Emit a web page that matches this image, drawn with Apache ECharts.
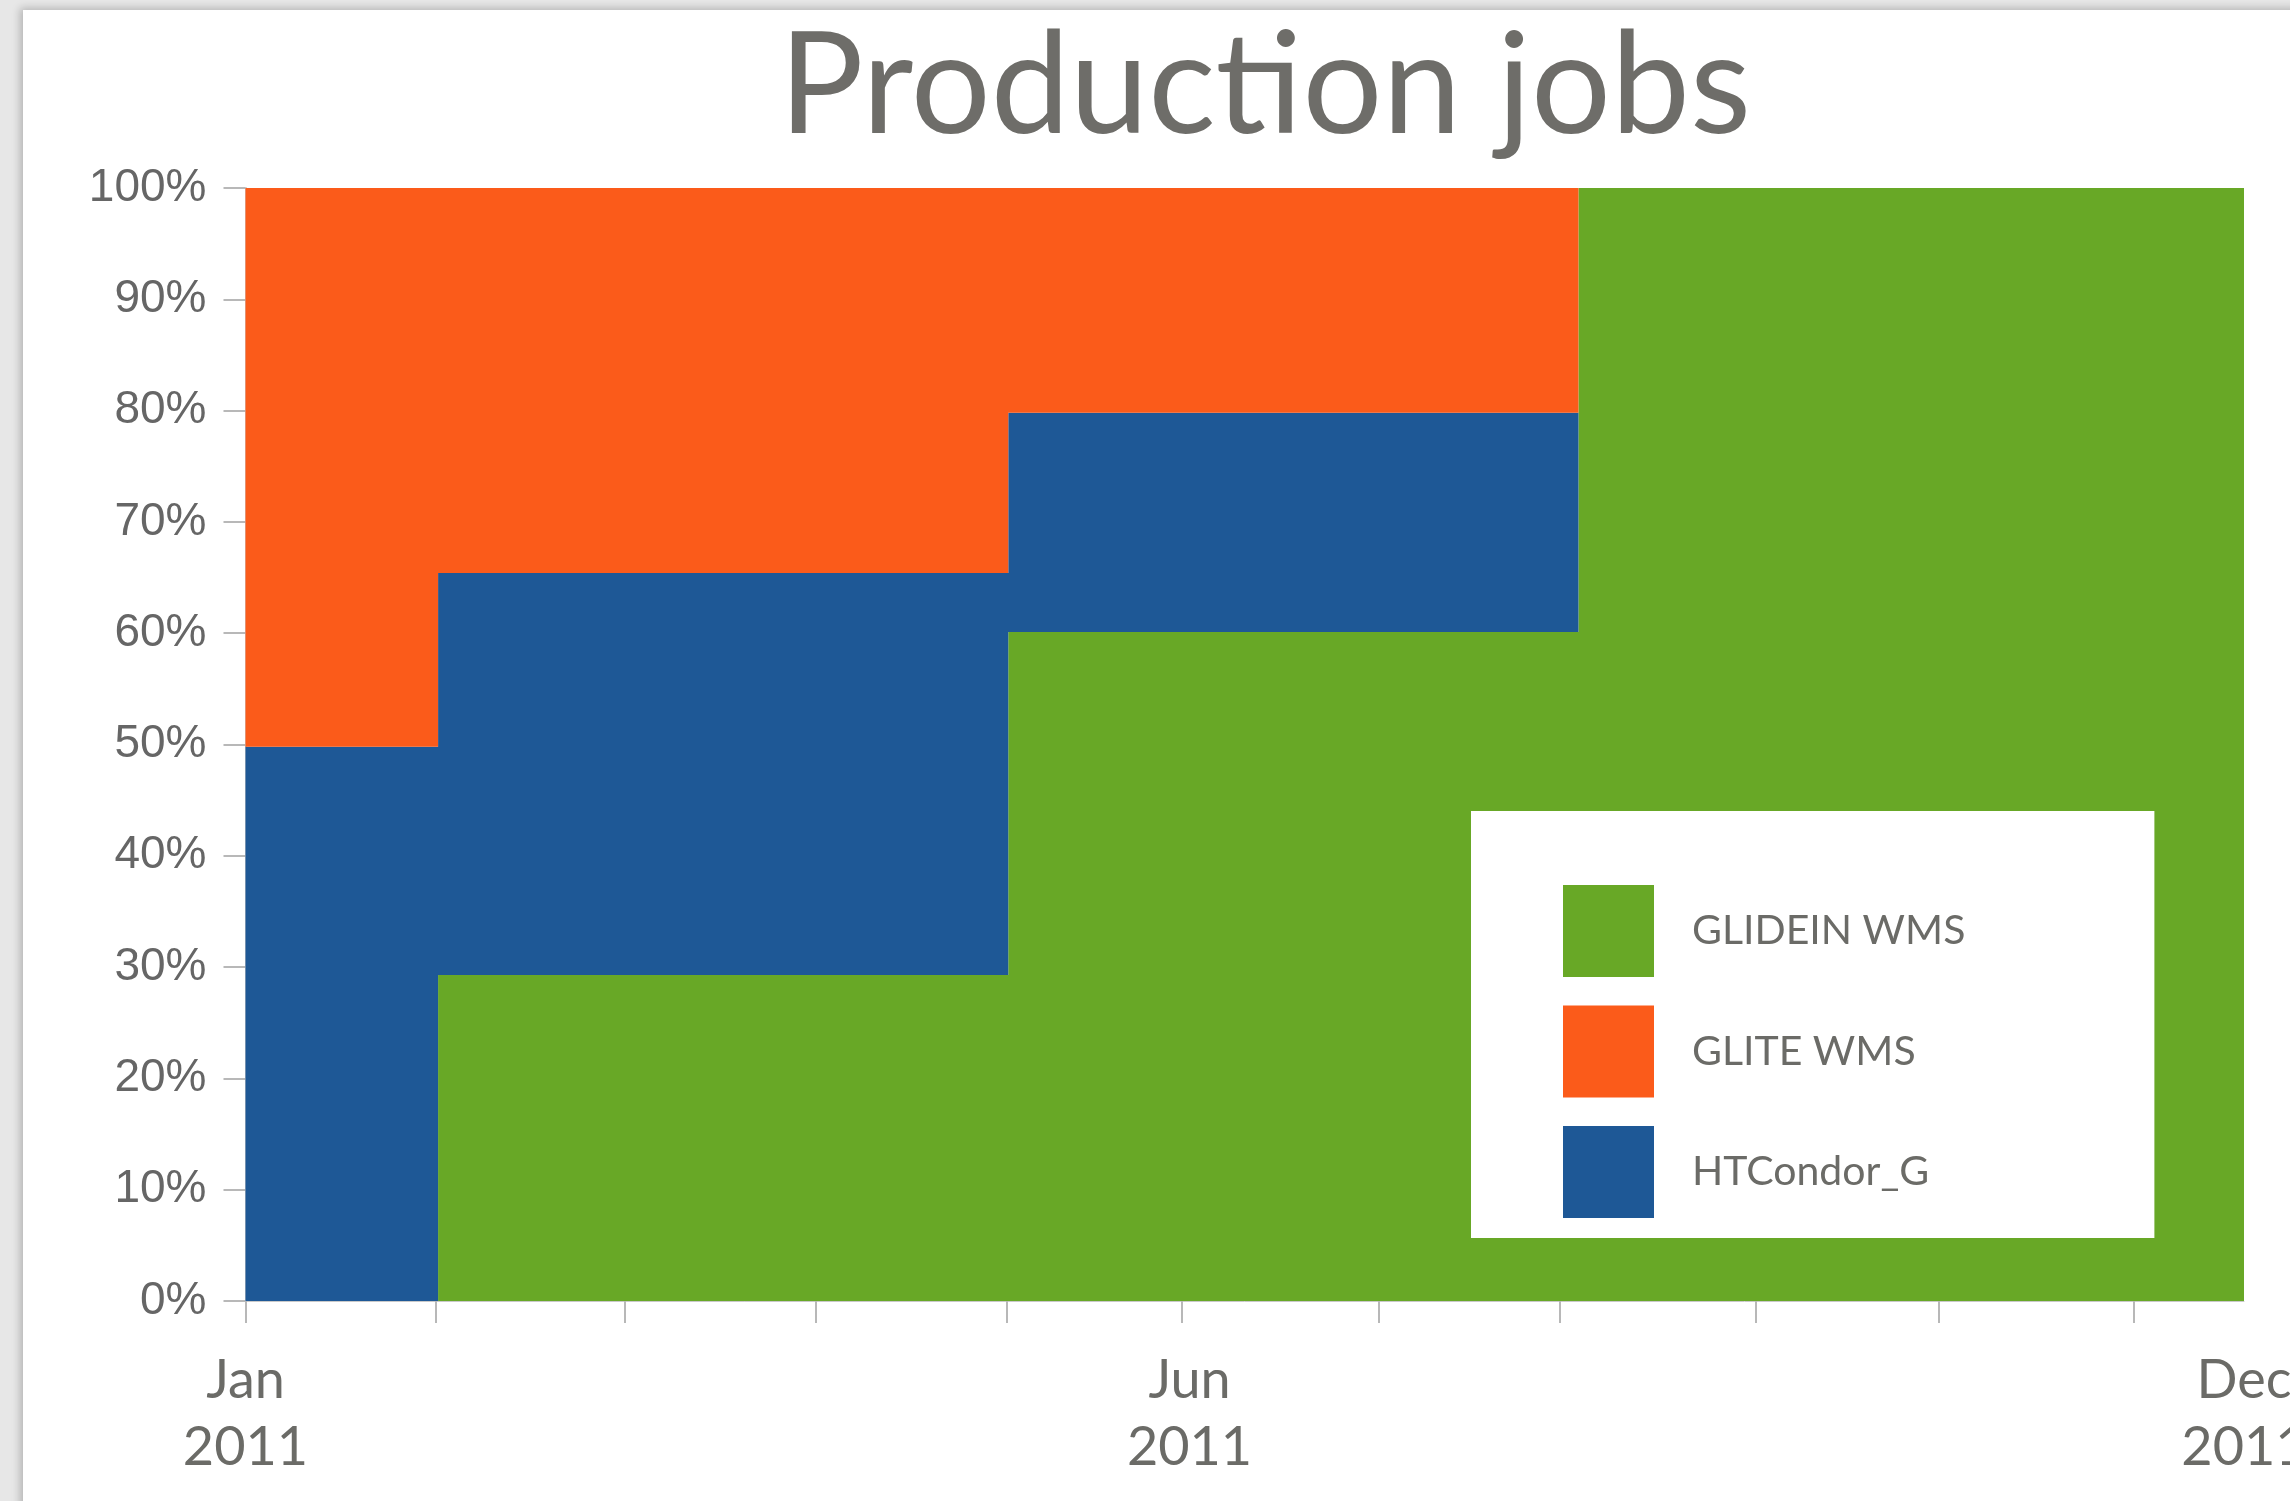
<!DOCTYPE html>
<html>
<head>
<meta charset="utf-8">
<script src="https://cdn.jsdelivr.net/npm/echarts@6/dist/echarts.min.js"></script>
<style>
  html, body { margin: 0; padding: 0; background: #e7e7e7; overflow: hidden; }
  #card { position: absolute; left: 23px; top: 10px; width: 2300px; height: 1520px; background: #fff; box-shadow: -3px -2px 8px rgba(0,0,0,0.22); }
  #chart { position: absolute; left: 0; top: 0; width: 2290px; height: 1501px; }
</style>
</head>
<body>
<div id="card"></div>
<div id="chart"></div>
<script>
// ---- data ----
const titleText = 'Production jobs';
const seriesNames = ['GLIDEIN WMS', 'HTCondor_G', 'GLITE WMS'];   // stacking order, bottom to top
const legendOrder = ['GLIDEIN WMS', 'GLITE WMS', 'HTCondor_G'];
const seriesColors = ['#68a826', '#1e5896', '#fb5b1a'];
// x = months since 1 Jan 2011 (start of each period; last entry is the end of the axis)
const periodStart = [0, 1.02, 4.04, 7.06, 10.585];
const glidein  = [0,    29.3, 60.1, 100, 100];
const htcondor = [49.8, 36.1, 19.7, 0,   0];
const glite    = [50.2, 34.6, 20.2, 0,   0];
const xTickPos = [0, 1.01, 2.01, 3.02, 4.03, 4.96, 6.0, 6.96, 8.0, 8.97, 10];
const xLabelPos = [0, 5, 10.585];
const xLabels = ['Jan\n2011', 'Jun\n2011', 'Dec\n2011'];
const yTickLabels = ['0%', '10%', '20%', '30%', '40%', '50%', '60%', '70%', '80%', '90%', '100%'];

const valuesBySeries = [glidein, htcondor, glite];

const chart = echarts.init(document.getElementById('chart'), null, { renderer: 'canvas' });

// data rows are [share, month]; encode maps month -> x, share -> y so the stack is applied to y
const series = seriesNames.map((name, i) => ({
  name: name,
  type: 'line',
  stack: 'total',
  step: 'end',
  symbol: 'none',
  silent: true,
  encode: { x: 1, y: 0 },
  lineStyle: { width: 0, color: seriesColors[i] },
  itemStyle: { color: seriesColors[i] },
  areaStyle: { color: seriesColors[i], opacity: 1 },
  data: periodStart.map((x, k) => [valuesBySeries[i][k], x])
}));

const option = {
  animation: false,
  backgroundColor: 'transparent',
  grid: { left: 245.5, right: 46, top: 188, bottom: 200, containLabel: false, outerBoundsMode: 'none' },
  graphic: [
    {
      type: 'text', x: 1265, y: 88, z: 10,
      style: {
        text: titleText, fill: '#6e6d69', font: '141px Lato',
        align: 'center', verticalAlign: 'middle'
      }
    }
  ],
  legend: {
    orient: 'vertical',
    left: 1471, top: 811,
    padding: [74, 189, 20, 92],
    backgroundColor: '#ffffff',
    z: 20,
    itemWidth: 91, itemHeight: 92, itemGap: 28.5,
    icon: 'rect',
    selectedMode: false,
    data: legendOrder.map(n => ({
      name: n,
      itemStyle: { color: seriesColors[seriesNames.indexOf(n)], borderWidth: 0 }
    })),
    textStyle: { fontFamily: 'Lato', fontSize: 41, color: '#6b6b67', padding: [0, 0, 6, 33] }
  },
  xAxis: {
    type: 'value',
    min: 0, max: periodStart[periodStart.length - 1],
    splitLine: { show: false },
    axisLine: { show: true, lineStyle: { color: '#c9c9c9', width: 1 } },
    axisTick: { show: true, length: 22, customValues: xTickPos, lineStyle: { color: '#b8b8b8', width: 2 } },
    axisLabel: {
      show: true, customValues: xLabelPos, margin: 46, hideOverlap: false,
      fontFamily: 'Lato', fontSize: 54, lineHeight: 67, color: '#6b6b67',
      formatter: function (v) {
        const idx = xLabelPos.findIndex(p => Math.abs(p - v) < 1e-6);
        return idx >= 0 ? xLabels[idx] : '';
      }
    }
  },
  yAxis: {
    type: 'value',
    min: 0, max: 100, interval: 10,
    splitLine: { show: false },
    axisLine: { show: true, lineStyle: { color: '#c9c9c9', width: 2 } },
    axisTick: { show: true, length: 22, lineStyle: { color: '#b8b8b8', width: 2 } },
    axisLabel: {
      margin: 39,
      fontFamily: 'Liberation Sans', fontSize: 46, color: '#666666',
      formatter: function (v) { return yTickLabels[Math.round(v / 10)]; }
    }
  },
  series: series
};

chart.setOption(option);
</script>
</body>
</html>
